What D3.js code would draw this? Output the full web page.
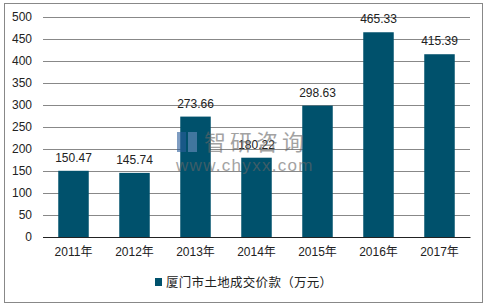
<!DOCTYPE html>
<html>
<head>
<meta charset="utf-8">
<script src="https://cdn.jsdelivr.net/npm/d3@7"></script>
<style>
  body { margin: 0; background: #fff; }
  svg { display: block; font-family: "Liberation Sans", Arial, "Noto Sans CJK SC", sans-serif; }
</style>
</head>
<body>
<svg id="chart" width="487" height="307"></svg>
<script>
const years = ["2011年", "2012年", "2013年", "2014年", "2015年", "2016年", "2017年"];
const values = [150.47, 145.74, 273.66, 180.22, 298.63, 465.33, 415.39];
const yTicks = [0, 50, 100, 150, 200, 250, 300, 350, 400, 450, 500];
const seriesName = "厦门市土地成交价款（万元）";

const barColor = "#00516c";
const svg = d3.select("#chart");
const margin = { top: 17, right: 17, bottom: 70, left: 43 };
const width = +svg.attr("width");
const height = +svg.attr("height");
const innerWidth = width - margin.left - margin.right;
const innerHeight = height - margin.top - margin.bottom;

// outer frame
svg.append("rect")
  .attr("x", 4.5).attr("y", 3.5)
  .attr("width", 478).attr("height", 299)
  .attr("fill", "none").attr("stroke", "#888").attr("stroke-width", 1);

const x = d3.scaleBand().domain(years).range([0, innerWidth]).paddingInner(0.5).paddingOuter(0.25);
const y = d3.scaleLinear().domain([0, 500]).range([innerHeight, 0]);

const g = svg.append("g").attr("transform", `translate(${margin.left},${margin.top})`);

// gridlines + y labels
const yAxis = g.append("g")
  .call(d3.axisLeft(y).tickValues(yTicks).tickSize(-innerWidth).tickPadding(11));
yAxis.select(".domain").remove();
yAxis.selectAll(".tick line").attr("stroke", "#888").attr("stroke-width", 1);
yAxis.selectAll(".tick text")
  .attr("font-size", 12).attr("fill", "#222")
  .attr("font-family", "Liberation Sans, Arial, sans-serif");
yAxis.selectAll(".tick").filter(d => d === 0).select("line").attr("stroke", "#222");

// bars
g.selectAll(".bar")
  .data(values)
  .enter()
  .append("rect")
  .attr("class", "bar")
  .attr("x", (d, i) => x(years[i]))
  .attr("y", d => y(d))
  .attr("width", x.bandwidth())
  .attr("height", d => innerHeight - y(d))
  .attr("fill", barColor);

// x axis
const xAxis = g.append("g")
  .attr("transform", `translate(0,${innerHeight})`)
  .call(d3.axisBottom(x).tickSize(0).tickPadding(10));
xAxis.select(".domain").attr("stroke", "#222");
xAxis.selectAll(".tick text")
  .attr("font-size", 12).attr("fill", "#222")
  .attr("font-family", "Liberation Sans, Arial, 'Noto Sans CJK SC', sans-serif");

// watermark
const wm = svg.append("g").attr("opacity", 0.6);
wm.append("rect").attr("x", 177).attr("y", 132).attr("width", 9).attr("height", 20).attr("fill", "#2a5d9a");
wm.append("rect").attr("x", 188).attr("y", 132).attr("width", 9).attr("height", 20).attr("fill", "#6d8fc0");
wm.append("text").attr("x", 204).attr("y", 150)
  .attr("font-size", 22).attr("fill", "#666")
  .attr("font-family", "Noto Sans CJK SC, sans-serif")
  .attr("letter-spacing", 4)
  .text("智研咨询");
wm.append("text").attr("x", 176).attr("y", 171)
  .attr("font-size", 17).attr("fill", "#666")
  .attr("letter-spacing", 1.3)
  .text("www.chyxx.com");

// value labels
g.selectAll(".label")
  .data(values)
  .enter()
  .append("text")
  .attr("class", "label")
  .attr("x", (d, i) => x(years[i]) + x.bandwidth() / 2)
  .attr("y", d => y(d) - 9)
  .attr("text-anchor", "middle")
  .attr("font-size", 12)
  .attr("fill", "#222")
  .text(d => d.toFixed(2));

// legend
const legend = svg.append("g").attr("transform", "translate(155,278)");
legend.append("rect").attr("width", 7).attr("height", 8).attr("fill", barColor);
legend.append("text")
  .attr("x", 11).attr("y", 9)
  .attr("font-size", 12.5).attr("fill", "#222")
  .attr("font-family", "Noto Sans CJK SC, sans-serif")
  .attr("letter-spacing", 0.3)
  .text(seriesName);
</script>
</body>
</html>
